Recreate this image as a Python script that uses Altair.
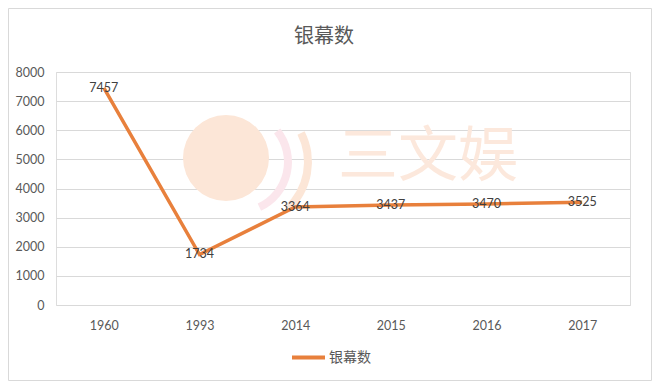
import altair as alt
import pandas as pd

years = ["1960", "1993", "2014", "2015", "2016", "2017"]
screens = [7457, 1734, 3364, 3437, 3470, 3525]
series_name = "银幕数"
title_text = "银幕数"
watermark = "三文娱"

df = pd.DataFrame({"year": years, "value": screens, "series": [series_name] * len(years)})

W, H = 574, 233
CJK = "Noto Sans CJK SC"
NUM = "Lato"
ORANGE = "#E8803C"

x_enc = alt.X("year:N", sort=years, title=None,
              scale=alt.Scale(type="point", padding=0.5),
              axis=alt.Axis(labelAngle=0, labelFont=NUM, labelFontSize=12.5, labelColor="#595959",
                            domain=False, ticks=False, labelPadding=14, grid=False))
y_enc = alt.Y("value:Q", title=None,
              scale=alt.Scale(domain=[0, 8000], nice=False),
              axis=alt.Axis(values=list(range(0, 8001, 1000)), format="d", labelFont=NUM,
                            labelFontSize=12.5, labelColor="#595959", domain=False, ticks=False,
                            labelPadding=12, gridColor="#d9d9d9", gridWidth=1, labelOverlap=False))

base = alt.Chart(df)
one = pd.DataFrame({"t": [1]})

frame = alt.Chart(one).mark_rect(
    fill=None, stroke="#d9d9d9", strokeWidth=1
).encode(x=alt.value(-47.5), x2=alt.value(595.5), y=alt.value(-63.5), y2=alt.value(308.5))

title = alt.Chart(pd.DataFrame({"s": [title_text]})).mark_text(
    font=CJK, fontSize=20, color="#595959"
).encode(text="s:N", x=alt.value(268), y=alt.value(-35))

logo_main = alt.Chart(one).mark_arc(
    color="#fce6d7", radius=43, radius2=0
).encode(theta=alt.Theta("t:Q"), x=alt.value(170), y=alt.value(86))
logo_pink = alt.Chart(one).mark_arc(
    color="#fbe6ec", radius=54, radius2=46, theta=0.9, theta2=2.7
).encode(x=alt.value(182), y=alt.value(90))
logo_peach = alt.Chart(one).mark_arc(
    color="#fce6d7", radius=68, radius2=60, theta=1.1, theta2=2.4
).encode(x=alt.value(188), y=alt.value(90))

wm = alt.Chart(pd.DataFrame({"w": [watermark]})).mark_text(
    font=CJK, fontSize=60, color="#fce8dc"
).encode(text="w:N", x=alt.value(372), y=alt.value(86))

line = base.mark_line(strokeWidth=3.5).encode(
    x=x_enc, y=y_enc,
    color=alt.Color("series:N", scale=alt.Scale(range=[ORANGE]), title=None,
                    legend=alt.Legend(orient="none", legendX=234, legendY=267,
                                      symbolType="stroke", symbolSize=1089, symbolStrokeWidth=4,
                                      labelFont=CJK, labelFontSize=14, labelColor="#595959",
                                      labelOffset=2))
)

labels = base.mark_text(font=NUM, fontSize=12.5, color="#404040").encode(
    x=x_enc, y=y_enc, text="value:Q"
)

chart = alt.layer(frame, title, logo_main, logo_pink, logo_peach, wm, line, labels).properties(
    width=W, height=H,
    autosize=alt.AutoSizeParams(type="none"),
    padding={"left": 48, "top": 64, "right": 22, "bottom": 76},
).configure_view(stroke=None).configure(background="white")

chart.save("out.html", embed_options={"renderer": "svg", "actions": False})
